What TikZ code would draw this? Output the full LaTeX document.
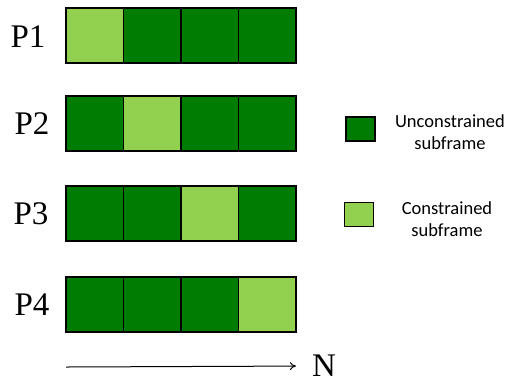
\documentclass[tikz,border=0pt]{standalone}
\usepackage{fontspec}
\setmainfont{Liberation Serif}
\newfontfamily\legendfont{Carlito}
\usetikzlibrary{arrows.meta}
\definecolor{darkcell}{RGB}{0,125,0}
\definecolor{lightcell}{RGB}{146,208,80}
\tikzset{
  cell/.style={draw=black, line width=1.5pt, minimum width=57.5pt, minimum height=55pt,
    inner sep=0pt, outer sep=0pt, anchor=north west},
  free/.style={cell, fill=darkcell},
  held/.style={cell, fill=lightcell},
  rowframe/.style={draw=black, line width=2.2pt},
  plabel/.style={font=\fontsize{33}{36}\selectfont, inner sep=0pt},
  keybox/.style={draw=black, line width=1.5pt, minimum width=29pt, minimum height=24pt, inner sep=0pt},
  keytext/.style={font=\legendfont\fontsize{18.5}{22}\selectfont, align=center, inner sep=0pt},
}
\begin{document}
\begin{tikzpicture}[x=1pt,y=-1pt]
\useasboundingbox (0,0) rectangle (510,384);

% row P1
\node[held] (c11) at (66,8) {};
\node[free] (c12) at (123.5,8) {};
\node[free] (c13) at (181,8) {};
\node[free] (c14) at (238.5,8) {};
\draw[rowframe] (c11.north west) rectangle (c14.south east);
\node[plabel] (p1) at (28,37) {P1};

% row P2
\node[free] (c21) at (66,96) {};
\node[held] (c22) at (123.5,96) {};
\node[free] (c23) at (181,96) {};
\node[free] (c24) at (238.5,96) {};
\draw[rowframe] (c21.north west) rectangle (c24.south east);
\node[plabel] (p2) at (32,124) {P2};

% row P3
\node[free] (c31) at (66,186) {};
\node[free] (c32) at (123.5,186) {};
\node[held] (c33) at (181,186) {};
\node[free] (c34) at (238.5,186) {};
\draw[rowframe] (c31.north west) rectangle (c34.south east);
\node[plabel] (p3) at (31,214) {P3};

% row P4
\node[free] (c41) at (66,277) {};
\node[free] (c42) at (123.5,277) {};
\node[free] (c43) at (181,277) {};
\node[held] (c44) at (238.5,277) {};
\draw[rowframe] (c41.north west) rectangle (c44.south east);
\node[plabel] (p4) at (32,305) {P4};

% subframe index axis
\coordinate (axs) at (66,367);
\node[plabel] (n) at (324,366) {N};
\draw[line width=1pt, -{To[length=6pt,width=8pt]}] (axs) -- (n.west) [shorten >=16pt];

% legend
\node[keybox, fill=darkcell] (k1) at (360.5,129) {};
\node[keytext] (t1) at (450,132) {Unconstrained\\subframe};
\node[keybox, fill=lightcell] (k2) at (359,214.5) {};
\node[keytext] (t2) at (447,219) {Constrained\\subframe};
\end{tikzpicture}
\end{document}
